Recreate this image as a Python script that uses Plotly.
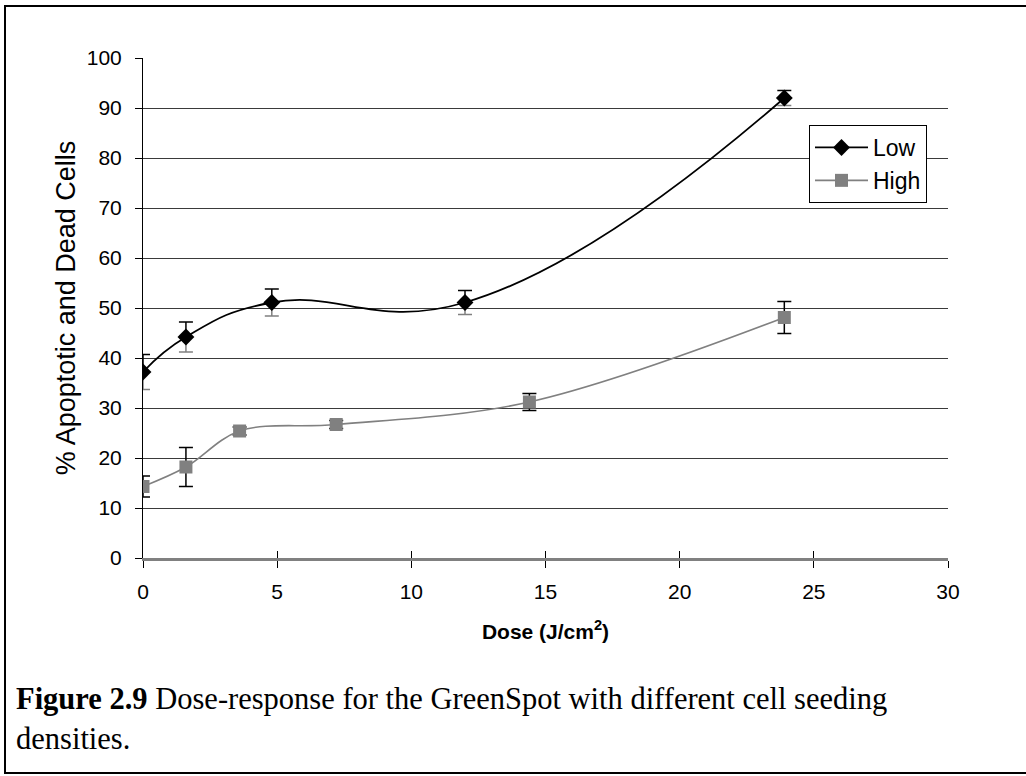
import plotly.graph_objects as go

# ---- data ----
dose_low = [0, 1.6, 4.8, 12.0, 23.9]
pct_low = [37.2, 44.2, 51.1, 51.1, 92.0]
err_low = [3.5, 3.0, 2.7, 2.4, 1.5]

dose_high = [0, 1.6, 3.6, 7.2, 14.4, 23.9]
pct_high = [14.3, 18.2, 25.4, 26.7, 31.2, 48.1]
err_high = [2.1, 3.9, 0.8, 0.8, 1.7, 3.2]

x_ticks = [0, 5, 10, 15, 20, 25, 30]
y_ticks = list(range(0, 101, 10))

W, H = 1026, 776
L, R, T, B = 143, 948, 58, 558  # plot area in pixels

def px(xp):
    return (xp - L) / (R - L)

def py(yp):
    return (B - yp) / (B - T)

FONT = "Liberation Sans, Arial, sans-serif"
GREY = "#808080"

fig = go.Figure()

# High series
fig.add_trace(go.Scatter(
    x=dose_high, y=pct_high, name="High", mode="lines+markers",
    line=dict(color=GREY, width=1.6, shape="spline", smoothing=1.0),
    marker=dict(symbol="square", size=13, color=GREY),
    error_y=dict(type="data", array=err_high, color="black", thickness=1.5, width=7),
))

# Low series: lower error bars grey
fig.add_trace(go.Scatter(
    x=dose_low, y=pct_low, mode="markers", showlegend=False, hoverinfo="skip",
    marker=dict(size=1, color="rgba(0,0,0,0)"),
    error_y=dict(type="data", symmetric=False, array=[0] * len(err_low),
                 arrayminus=err_low, color=GREY, thickness=1.5, width=7),
))

# Low series: upper error bars black
fig.add_trace(go.Scatter(
    x=dose_low, y=pct_low, name="Low", mode="lines+markers",
    line=dict(color="black", width=1.8, shape="spline", smoothing=1.3),
    marker=dict(symbol="diamond", size=13, color="black"),
    error_y=dict(type="data", symmetric=False, array=err_low,
                 arrayminus=[0] * len(err_low), color="black", thickness=1.5, width=7),
))

fig.update_layout(
    width=W, height=H,
    margin=dict(l=L, r=W - R, t=T, b=H - B),
    paper_bgcolor="white", plot_bgcolor="white",
    font=dict(family=FONT, size=21, color="black"),
    showlegend=True,
    legend=dict(
        x=px(809), y=py(125), xanchor="left", yanchor="top",
        bordercolor="black", borderwidth=1, bgcolor="white",
        font=dict(size=23), traceorder="reversed",
        itemwidth=53, tracegroupgap=0,
    ),
    xaxis=dict(
        range=[0, 30], tickvals=x_ticks, ticktext=[str(v) for v in x_ticks],
        showgrid=False, zeroline=False,
        showline=True, linecolor=GREY, linewidth=2.5,
        ticks="outside", ticklen=7, tickcolor="black", tickwidth=1,
        tickfont=dict(size=21), ticklabelstandoff=6,
        title=dict(text="<b>Dose (J/cm<sup>2</sup>)</b>", font=dict(size=21), standoff=23),
    ),
    xaxis2=dict(
        range=[0, 30], tickvals=x_ticks, overlaying="x", anchor="y", side="bottom",
        showgrid=False, zeroline=False, showticklabels=False, showline=False,
        ticks="inside", ticklen=7, tickcolor="black", tickwidth=1,
    ),
    yaxis=dict(
        range=[0, 100], tickvals=y_ticks, ticktext=[str(v) for v in y_ticks],
        showgrid=True, gridcolor="#3a3a3a", gridwidth=1, zeroline=False,
        showline=True, linecolor="black", linewidth=1,
        ticks="outside", ticklen=7, tickcolor="black", tickwidth=1,
        tickfont=dict(size=21), ticklabelstandoff=9,
        title=dict(text="% Apoptotic and Dead Cells", font=dict(size=27), standoff=3),
    ),
)

# Dummy invisible trace so xaxis2 is rendered
fig.add_trace(go.Scatter(x=[0], y=[0], xaxis="x2", mode="markers",
                         marker=dict(color="rgba(0,0,0,0)", size=1),
                         showlegend=False, hoverinfo="skip"))

# Figure frame
fig.add_shape(type="rect", xref="paper", yref="paper",
              x0=px(5), x1=px(1040), y0=py(773), y1=py(6),
              line=dict(color="black", width=2), fillcolor="rgba(0,0,0,0)", layer="below")

# Caption
fig.add_annotation(
    xref="paper", yref="paper", x=px(14), y=py(680), xanchor="left", yanchor="top",
    align="left", showarrow=False,
    text="<b>Figure 2.9</b> Dose-response for the GreenSpot with different cell seeding<br>densities.",
    font=dict(family="Liberation Serif, Times New Roman, serif", size=30.5, color="black"),
)

fig.write_html("out.html", config={"displayModeBar": False},
               post_script="document.body.style.margin='0px';")
